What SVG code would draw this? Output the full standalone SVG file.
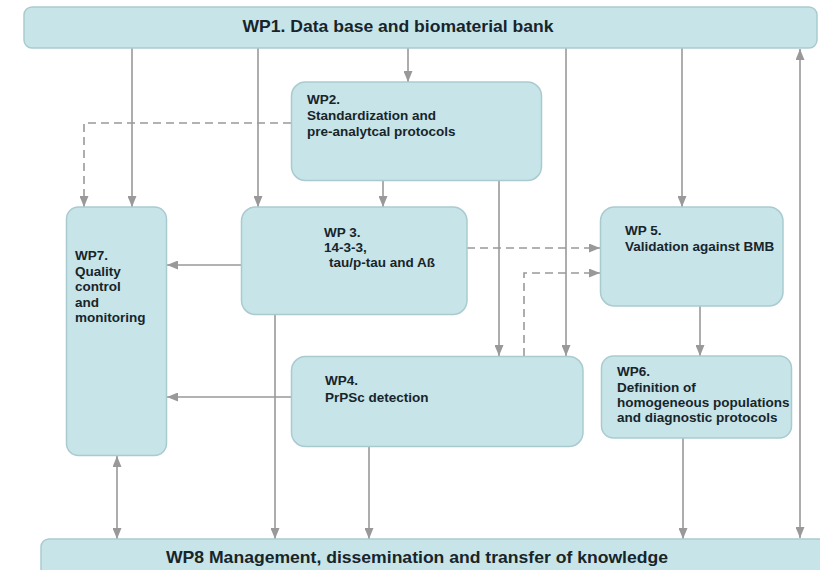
<svg xmlns="http://www.w3.org/2000/svg" width="820" height="570" viewBox="0 0 820 570">
<style>
.box{fill:#c7e4e8;stroke:#a9cbd0;stroke-width:1.5}
.t{font-family:"Liberation Sans",Arial,sans-serif;font-weight:bold;font-size:13.5px;fill:#17252b}
.title{font-family:"Liberation Sans",Arial,sans-serif;font-weight:bold;font-size:17px;fill:#17252b}
.c{fill:none;stroke:#999;stroke-width:1.6}
.d{stroke-dasharray:8,5}
</style>
<defs>
<marker id="ar" viewBox="0 0 10 10" refX="10" refY="5" markerWidth="11" markerHeight="9" markerUnits="userSpaceOnUse" orient="auto-start-reverse" preserveAspectRatio="none">
<path d="M0,0 L10,5 L0,10 z" fill="#999"/>
</marker>
</defs>
<rect width="820" height="570" fill="#fff"/>
<g id="connectors">
<path class="c" d="M132,48 V207" marker-end="url(#ar)"/>
<path class="c" d="M258,48 V207" marker-end="url(#ar)"/>
<path class="c" d="M408,48 V82" marker-end="url(#ar)"/>
<path class="c" d="M566,48 V356" marker-end="url(#ar)"/>
<path class="c" d="M682,48 V207" marker-end="url(#ar)"/>
<path class="c" d="M800,49 V538" marker-start="url(#ar)" marker-end="url(#ar)"/>
<path class="c d" d="M291,123 H84 V207" marker-end="url(#ar)"/>
<path class="c" d="M383,181 V207" marker-end="url(#ar)"/>
<path class="c" d="M499,181 V356" marker-end="url(#ar)"/>
<path class="c d" d="M467,248 H600" marker-end="url(#ar)"/>
<path class="c d" d="M524,356 V273 H600" marker-end="url(#ar)"/>
<path class="c" d="M241,265 H167" marker-end="url(#ar)"/>
<path class="c" d="M275,315 V539" marker-end="url(#ar)"/>
<path class="c" d="M291,397 H167" marker-end="url(#ar)"/>
<path class="c" d="M369,447 V539" marker-end="url(#ar)"/>
<path class="c" d="M700,306 V356" marker-end="url(#ar)"/>
<path class="c" d="M683,438 V539" marker-end="url(#ar)"/>
<path class="c" d="M117,456 V539" marker-start="url(#ar)" marker-end="url(#ar)"/>
</g>
<g id="wp1">
<rect class="box" x="24" y="7" width="793" height="41" rx="8"/>
<text class="title" x="398" y="32" text-anchor="middle" textLength="311" lengthAdjust="spacingAndGlyphs">WP1. Data base and biomaterial bank</text>
</g>
<g id="wp2">
<rect class="box" x="291.5" y="82" width="250" height="98.5" rx="14"/>
<text class="t" x="307" y="104">WP2.</text>
<text class="t" x="307" y="120">Standardization and</text>
<text class="t" x="307" y="136">pre-analytcal protocols</text>
</g>
<g id="wp3">
<rect class="box" x="241.5" y="207" width="225.5" height="107.5" rx="14"/>
<text class="t" x="324" y="237">WP 3.</text>
<text class="t" x="324" y="252">14-3-3,</text>
<text class="t" x="324" y="267"> <tspan x="329">tau/p-tau and Aß</tspan></text>
</g>
<g id="wp5">
<rect class="box" x="600.5" y="207" width="182.5" height="99" rx="14"/>
<text class="t" x="625" y="235">WP 5.</text>
<text class="t" x="625" y="251">Validation against BMB</text>
</g>
<g id="wp7">
<rect class="box" x="66.5" y="207" width="100" height="248.5" rx="12"/>
<text class="t" x="75" y="260">WP7.</text>
<text class="t" x="75" y="275.5">Quality</text>
<text class="t" x="75" y="291">control</text>
<text class="t" x="75" y="306.5">and</text>
<text class="t" x="75" y="322">monitoring</text>
</g>
<g id="wp4">
<rect class="box" x="291.5" y="356.5" width="291.5" height="90" rx="14"/>
<text class="t" x="325" y="385">WP4.</text>
<text class="t" x="325" y="401.5">PrPSc detection</text>
</g>
<g id="wp6">
<rect class="box" x="601.5" y="356" width="190" height="82" rx="12"/>
<text class="t" x="617" y="376">WP6.</text>
<text class="t" x="617" y="391.5">Definition of</text>
<text class="t" x="617" y="407">homogeneous populations</text>
<text class="t" x="617" y="422">and diagnostic protocols</text>
</g>
<g id="wp8">
<rect class="box" x="41" y="539" width="790" height="45" rx="8"/>
<text class="title" x="417" y="563" text-anchor="middle" textLength="502" lengthAdjust="spacingAndGlyphs">WP8 Management, dissemination and transfer of knowledge</text>
</g>
</svg>
